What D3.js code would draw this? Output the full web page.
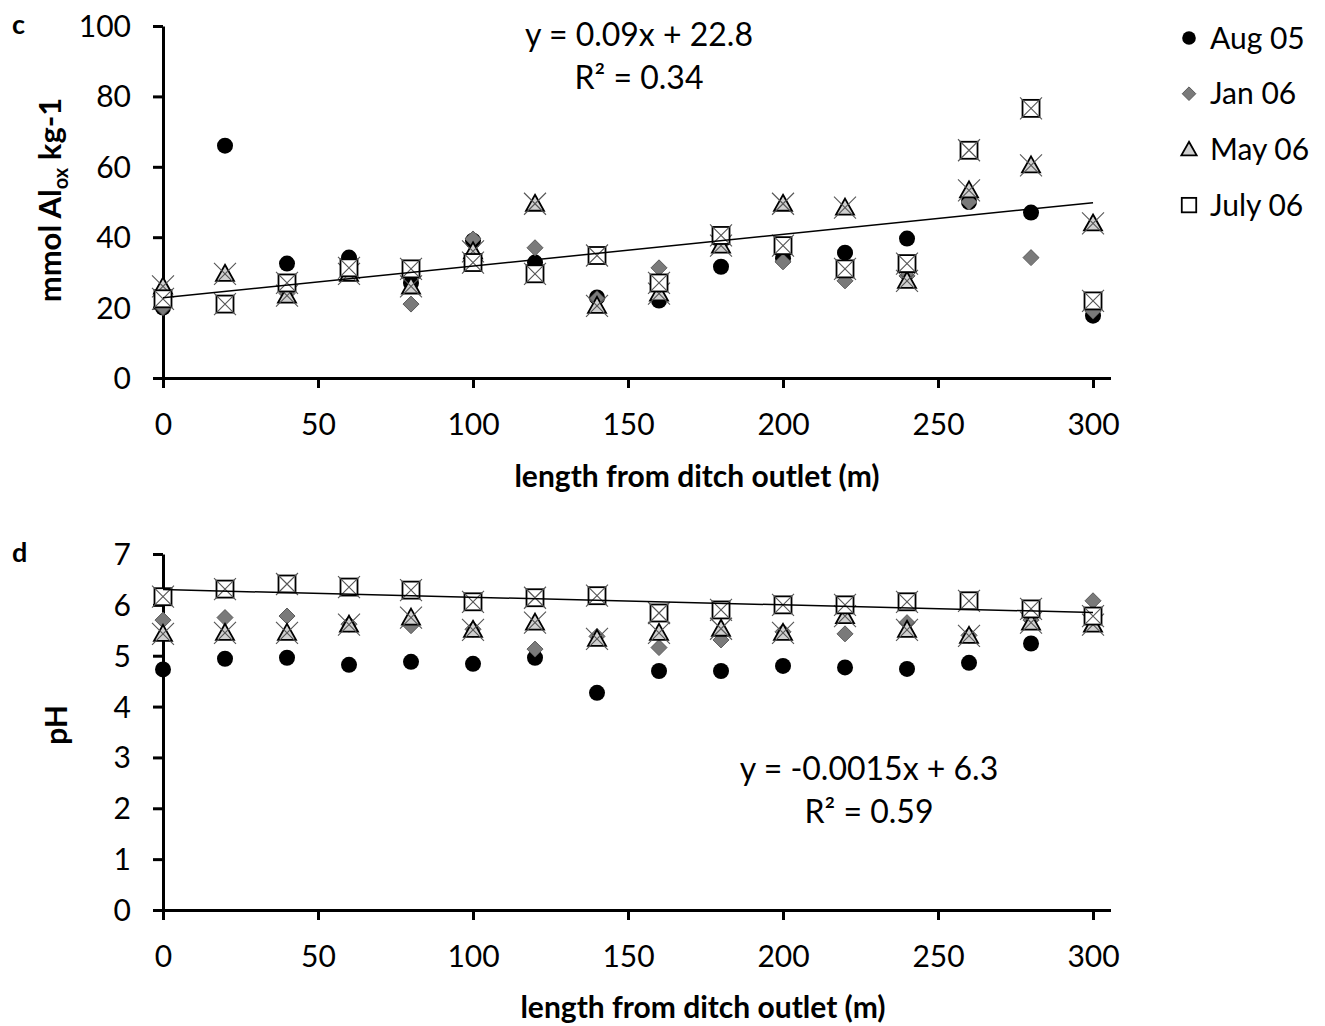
<!DOCTYPE html>
<html><head><meta charset="utf-8">
<script src="https://cdn.jsdelivr.net/npm/d3@7"></script>
<style>body{margin:0;background:#fff}svg{display:block}text{font-family:Lato,"Open Sans",sans-serif;fill:#000}</style>
</head><body><svg id="c" width="1325" height="1026"></svg>
<script>
const distances = [0,20,40,60,80,100,120,140,160,180,200,220,240,260,280,300];
const seriesNames = ["Aug 05","Jan 06","May 06","July 06"];
const alAug05 = [20,66,32.5,34.2,27,39,32.8,22.9,22,31.6,34,35.6,39.6,50,47,17.7];
const alJan06 = [20,21,24,30,21,39.5,37,22.5,31.3,38,33,27.6,29,50,34.2,19];
const alMay06 = [26,29.6,23.4,29.6,26,36,49.5,20.5,24,37.6,49.5,48.4,27.6,53.3,60.4,43.9];
const alJuly06 = [22.5,21,27,31.3,31,32.8,29.6,34.8,27,40.5,37.6,31,32.5,64.7,76.6,21.9];
const phAug05 = [4.73,4.94,4.96,4.82,4.88,4.84,4.96,4.27,4.7,4.7,4.8,4.77,4.74,4.86,5.24,null];
const phJan06 = [5.70,5.75,5.78,5.62,5.59,5.52,5.13,5.38,5.16,5.31,5.47,5.43,5.65,5.4,5.7,6.08];
const phMay06 = [5.43,5.45,5.45,5.61,5.75,5.51,5.65,5.33,5.45,5.53,5.45,5.78,5.51,5.39,5.65,5.61];
const phJuly06 = [6.16,6.31,6.41,6.35,6.29,6.06,6.14,6.18,5.84,5.9,6.0,6.0,6.06,6.08,5.92,5.78];
const xTicks = [0,50,100,150,200,250,300];
const alTicks = [0,20,40,60,80,100];
const phTicks = [0,1,2,3,4,5,6,7];
const alTrend = {slope:0.09, intercept:22.8, eq:"y = 0.09x + 22.8", r2:"R² = 0.34"};
const phTrend = {slope:-0.0015, intercept:6.3, eq:"y = -0.0015x + 6.3", r2:"R² = 0.59"};

const svg = d3.select("#c");
const styles = [
  {type:"circle"},{type:"diamond"},{type:"triangle"},{type:"square"}
];

function marker(g, type, x, y, withX, s) {
  s = s || 1;
  if (type==="circle") g.append("circle").attr("cx",x).attr("cy",y).attr("r",8*s).attr("fill","#000");
  else if (type==="diamond") g.append("path").attr("d",`M${x},${y-8*s}L${x+8*s},${y}L${x},${y+8*s}L${x-8*s},${y}Z`).attr("fill","#7a7a7a").attr("stroke","#5a5a5a").attr("stroke-width",1);
  else if (type==="triangle") g.append("path").attr("d",`M${x},${y-9*s}L${x+9*s},${y+7*s}L${x-9*s},${y+7*s}Z`).attr("fill","#d0d0d0").attr("stroke","#000").attr("stroke-width",1.8);
  else if (type==="square") g.append("rect").attr("x",x-8.5*s).attr("y",y-8.5*s).attr("width",17*s).attr("height",17*s).attr("fill","#fff").attr("stroke","#000").attr("stroke-width",1.8);
  if (withX) {
    g.append("path").attr("d",`M${x-11},${y-11}L${x+11},${y+11}M${x+11},${y-11}L${x-11},${y+11}`).attr("stroke","#555").attr("stroke-width",1.1).attr("fill","none");
  }
}

function panel(opts) {
  const x = d3.scaleLinear().domain([0,305.8]).range([163,1111]);
  const y = d3.scaleLinear().domain(opts.yDomain).range([opts.bottom, opts.top]);
  const g = svg.append("g");
  const xa = g.append("g").attr("transform",`translate(0,${opts.bottom})`)
    .call(d3.axisBottom(x).tickValues(xTicks).tickFormat(d3.format("d")).tickSize(10).tickPadding(26).tickSizeOuter(0));
  const ya = g.append("g").attr("transform",`translate(163,0)`)
    .call(d3.axisLeft(y).tickValues(opts.yTicks).tickFormat(d3.format("d")).tickSize(10).tickPadding(22).tickSizeOuter(0));
  [xa,ya].forEach(a=>{
    a.select(".domain").attr("stroke","#000").attr("stroke-width",3);
    a.selectAll(".tick line").attr("stroke","#000").attr("stroke-width",3);
    a.selectAll(".tick text").attr("font-size",30).attr("font-family","Lato, sans-serif").attr("fill","#000");
  });
  xa.select(".domain").attr("d",`M153,0.5H1111`);
  ya.selectAll(".tick text").attr("dy","0.35em");
  xa.selectAll(".tick text").attr("dy","0.71em");
  opts.data.forEach((vals,i)=>{
    const sg = g.append("g");
    vals.forEach((v,j)=>{
      if (v==null) return;
      marker(sg, styles[i].type, x(distances[j]), y(v), i>=2);
    });
  });
  const t = opts.trend;
  g.append("line").attr("x1",x(0)).attr("x2",x(300))
    .attr("y1",y(t.intercept)).attr("y2",y(t.intercept+t.slope*300))
    .attr("stroke","#000").attr("stroke-width",1.5);
  g.append("text").attr("x",opts.eqX).attr("y",opts.eqY).attr("text-anchor","middle").attr("font-size",32).text(t.eq);
  g.append("text").attr("x",opts.eqX).attr("y",opts.eqY+43).attr("text-anchor","middle").attr("font-size",32).text(t.r2);
  g.append("text").attr("x",opts.xTitleX).attr("y",opts.xTitleY).attr("text-anchor","middle")
    .attr("font-size",30).attr("font-weight","bold").text("length from ditch outlet (m)");
  g.append("text").attr("x",12).attr("y",opts.letterY).attr("font-size",27).attr("font-weight","bold").text(opts.letter);
  return g;
}

panel({yDomain:[0,100], top:26, bottom:378, yTicks:alTicks,
  data:[alAug05,alJan06,alMay06,alJuly06], trend:alTrend, eqX:639, eqY:46,
  xTitleX:697, xTitleY:487, letter:"c", letterY:34});
panel({yDomain:[0,7], top:554, bottom:910, yTicks:phTicks,
  data:[phAug05,phJan06,phMay06,phJuly06], trend:phTrend, eqX:869, eqY:780,
  xTitleX:703, xTitleY:1018, letter:"d", letterY:562});

const yt = svg.append("text").attr("transform","translate(61,200) rotate(-90)").attr("text-anchor","middle")
  .attr("font-size",31).attr("font-weight","bold");
yt.append("tspan").text("mmol Al");
yt.append("tspan").attr("font-size",20).attr("dy",7).text("ox");
yt.append("tspan").attr("dy",-7).text(" kg-1");
svg.append("text").attr("transform","translate(67,725) rotate(-90)").attr("text-anchor","middle")
  .attr("font-size",30).attr("font-weight","bold").text("pH");

const lg = svg.append("g");
seriesNames.forEach((n,i)=>{
  const cy = 38 + i*55.7;
  marker(lg, styles[i].type, 1189, cy, false, 0.85);
  lg.append("text").attr("x",1210).attr("y",cy).attr("dy","0.35em").attr("font-size",30).text(n);
});
</script></body></html>
